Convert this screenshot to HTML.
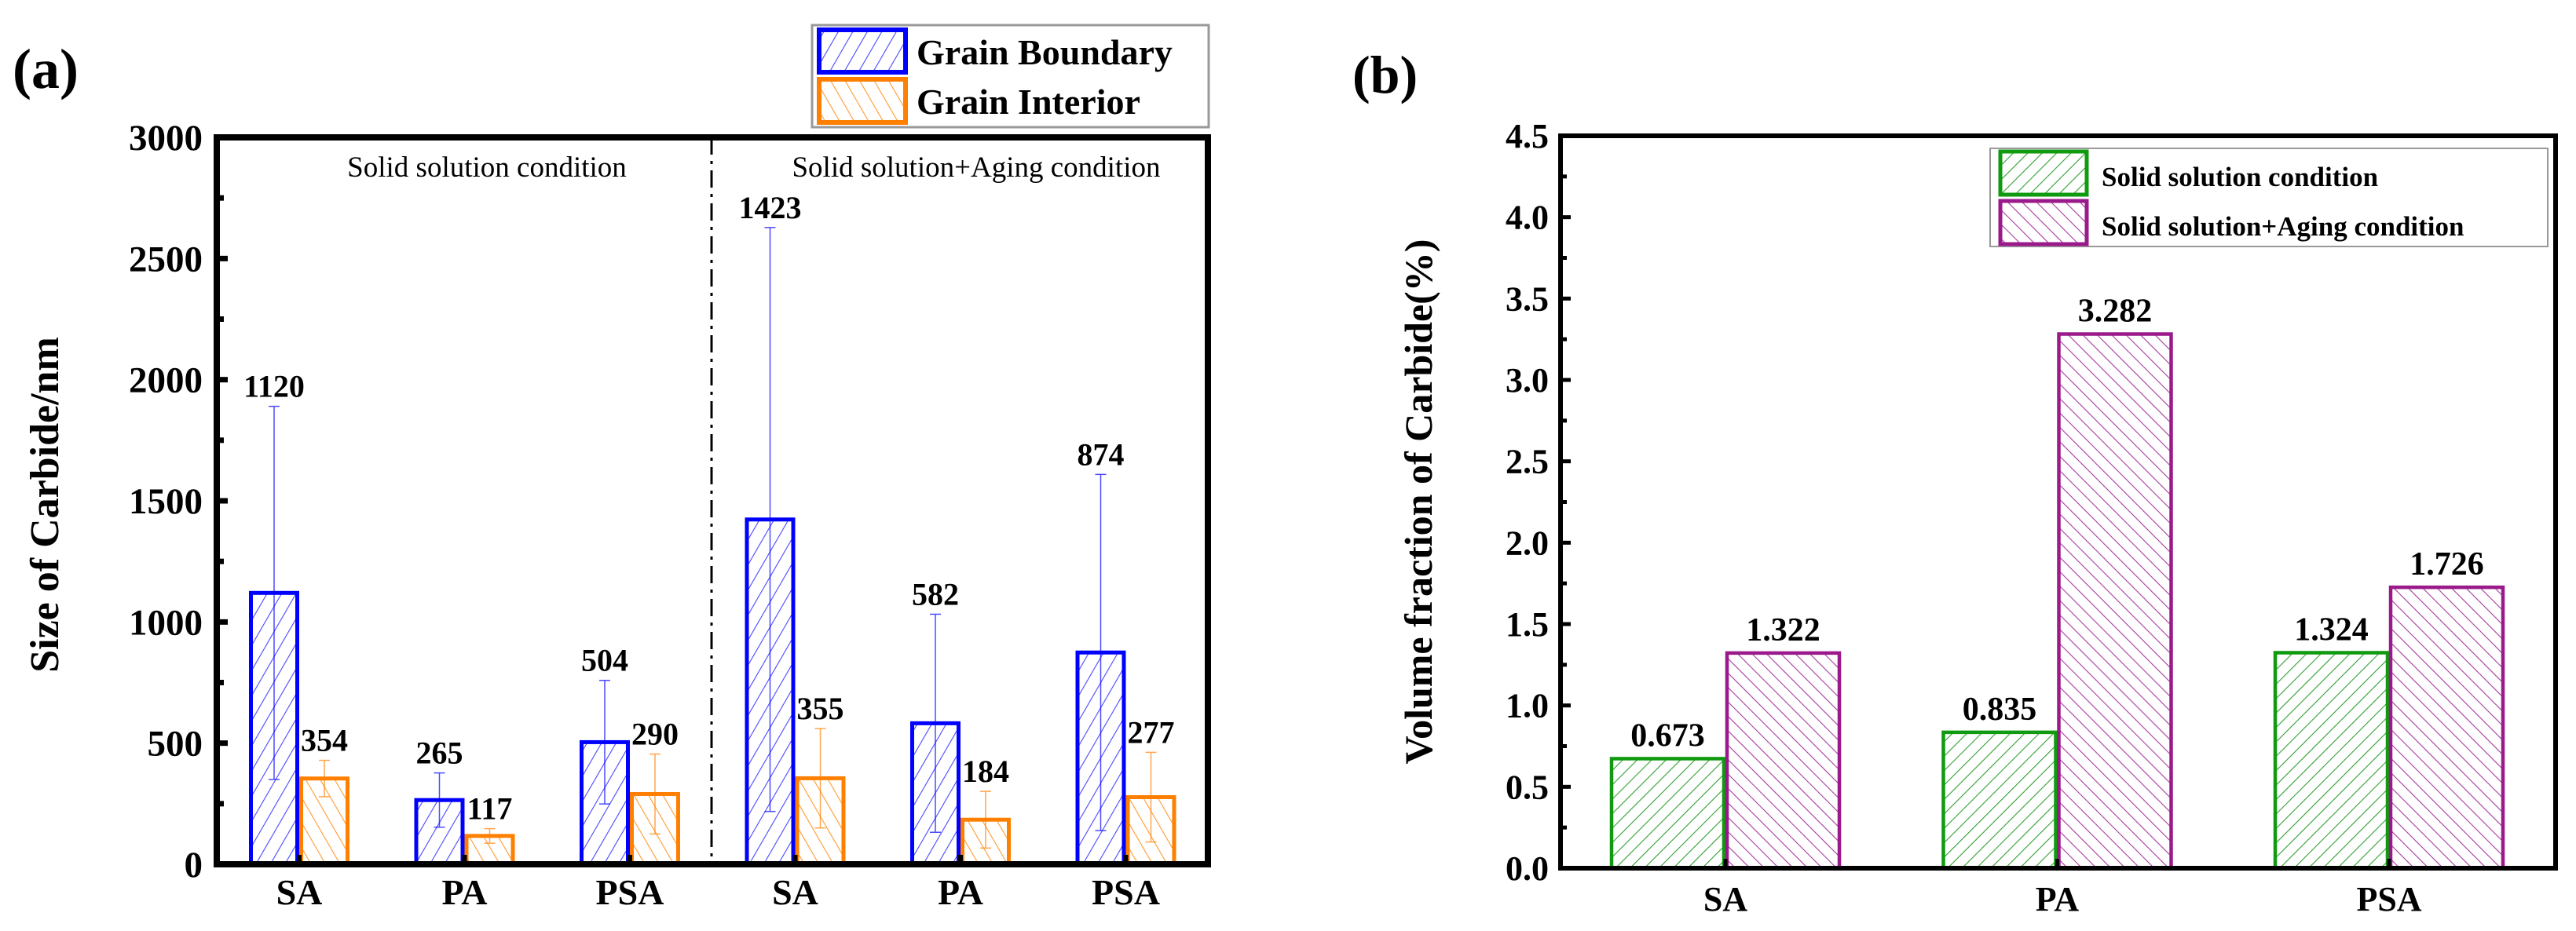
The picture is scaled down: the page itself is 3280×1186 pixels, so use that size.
<!DOCTYPE html>
<html><head><meta charset="utf-8">
<style>
html,body{margin:0;padding:0;background:#fff;}
svg{display:block;}
text{font-family:"Liberation Serif",serif;}
</style></head>
<body>
<svg id="fig" width="3280" height="1186" viewBox="0 0 3280 1186" xmlns="http://www.w3.org/2000/svg">
<defs>
<pattern id="hBlue" patternUnits="userSpaceOnUse" width="16" height="16" patternTransform="rotate(30)"><line x1="0" y1="0" x2="0" y2="16" stroke="#4848ff" stroke-width="2.2"/></pattern>
<pattern id="hOrange" patternUnits="userSpaceOnUse" width="16" height="16" patternTransform="rotate(-30)"><line x1="0" y1="0" x2="0" y2="16" stroke="#ff9a30" stroke-width="2.2"/></pattern>
<pattern id="hGreen" patternUnits="userSpaceOnUse" width="13" height="13" patternTransform="rotate(45)"><line x1="0" y1="0" x2="0" y2="13" stroke="#30a030" stroke-width="2.2"/></pattern>
<pattern id="hMag" patternUnits="userSpaceOnUse" width="13" height="13" patternTransform="rotate(-45)"><line x1="0" y1="0" x2="0" y2="13" stroke="#a83aa0" stroke-width="2.2"/></pattern>
</defs>
<g id="pa"></g>
<g id="pb"></g>
</svg>
<script>
// Panel (a) data
const catsA = ["SA","PA","PSA","SA","PA","PSA"];
const gbVals = [1120,265,504,1423,582,874];
const giVals = [354,117,290,355,184,277];
const gbErr = [770,112,255,1205,450,735];
const giErr = [75,30,165,205,117,185];
const ticksA = [0,500,1000,1500,2000,2500,3000];
// Panel (b) data
const catsB = ["SA","PA","PSA"];
const ssVals = [0.673,0.835,1.324];
const agVals = [1.322,3.282,1.726];
const ticksB = [0,0.5,1.0,1.5,2.0,2.5,3.0,3.5,4.0,4.5];

const NS="http://www.w3.org/2000/svg";
function mk(parent,tag,attrs,txt){const e=document.createElementNS(NS,tag);for(const k in attrs)e.setAttribute(k,attrs[k]);if(txt!==undefined)e.textContent=txt;parent.appendChild(e);return e;}

// ---------- Panel A ----------
const pa=document.getElementById('pa');
const aL=276,aR=1538,aT=175,aB=1101,aMax=3000;
const yA=v=>aB-(v/aMax)*(aB-aT);
const xA=i=>381+i*210.5;
const bwA=64;

let e;
e=mk(pa,'text',{x:16,y:112,'font-size':72,'font-weight':'bold'},'(a)');



e=mk(pa,'line',{x1:906,y1:aT,x2:906,y2:aB,stroke:'#000','stroke-width':3,'stroke-dasharray':'22,8,4,8'});


e=mk(pa,'text',{x:620,y:225,'font-size':37,'text-anchor':'middle'},'Solid solution condition');


e=mk(pa,'text',{x:1243,y:225,'font-size':37,'text-anchor':'middle'},'Solid solution+Aging condition');



function barA(i,v,err,side,fill,stroke,name){
  const cx=xA(i)+(side<0?-bwA/2:bwA/2);
  const x0=side<0?xA(i)-bwA:xA(i);
  const y=yA(v);
  let r=mk(pa,'rect',{x:x0+2.5,y:y,width:bwA-5,height:aB-y,fill:fill,stroke:stroke,'stroke-width':5});
  
  
  const yt=yA(v+err), yb=yA(Math.max(0,v-err));
  let g=mk(pa,'g',{stroke:stroke,'stroke-width':1.5,opacity:0.7});
  
  
  mk(g,'line',{x1:cx,y1:yt,x2:cx,y2:yb});
  mk(g,'line',{x1:cx-7,y1:yt,x2:cx+7,y2:yt});
  mk(g,'line',{x1:cx-7,y1:yb,x2:cx+7,y2:yb});
  let t=mk(pa,'text',{x:cx,y:yt-12,'font-size':40,'font-weight':'bold','text-anchor':'middle'},String(v));
  
  
}
for(let i=0;i<catsA.length;i++){
  barA(i,gbVals[i],gbErr[i],-1,'url(#hBlue)','#0000ff','grain-boundary');
  barA(i,giVals[i],giErr[i],1,'url(#hOrange)','#ff7f00','grain-interior');
}
e=mk(pa,'rect',{x:aL,y:aT,width:aR-aL,height:aB-aT,fill:'none',stroke:'#000','stroke-width':8});


for(let v=0;v<=aMax;v+=250){
  const y=yA(v);const len=(v%500===0)?14:9;
  mk(pa,'line',{x1:aL,y1:y,x2:aL+len,y2:y,stroke:'#000','stroke-width':7});
}
ticksA.forEach(v=>{
  let t=mk(pa,'text',{x:258,y:yA(v)+16,'font-size':47,'font-weight':'bold','text-anchor':'end'},String(v));
  
  
});
catsA.forEach((c,i)=>{
  mk(pa,'line',{x1:xA(i),y1:aB,x2:xA(i),y2:aB-12,stroke:'#000','stroke-width':6});
  let t=mk(pa,'text',{x:xA(i),y:1152,'font-size':46,'font-weight':'bold','text-anchor':'middle'},c);
  
  
});
e=mk(pa,'text',{x:0,y:0,'font-size':52,'font-weight':'bold','text-anchor':'middle',transform:'translate(74,643) rotate(-90)'},'Size of Carbide/nm');


let lg=mk(pa,'g',{});


mk(lg,'rect',{x:1034,y:32,width:505,height:130,fill:'#fff',stroke:'#999','stroke-width':3});
mk(lg,'rect',{x:1043,y:38,width:110,height:54,fill:'url(#hBlue)',stroke:'#0000ff','stroke-width':6});
mk(lg,'rect',{x:1043,y:101,width:110,height:55,fill:'url(#hOrange)',stroke:'#ff7f00','stroke-width':6});
e=mk(lg,'text',{x:1167,y:82,'font-size':46,'font-weight':'bold'},'Grain Boundary');


e=mk(lg,'text',{x:1167,y:145,'font-size':46,'font-weight':'bold'},'Grain Interior');



// ---------- Panel B ----------
const pb=document.getElementById('pb');
const bL=1987,bR=3254,bT=173,bB=1106,bMax=4.5;
const yB=v=>bB-(v/bMax)*(bB-bT);
const xB=i=>2197+i*422.5;
const bwB=147;
e=mk(pb,'text',{x:1722,y:118,'font-size':68,'font-weight':'bold'},'(b)');


function barB(i,v,side,fill,stroke,name){
  const x0=side<0?xB(i)-bwB:xB(i);
  const y=yB(v);
  let r=mk(pb,'rect',{x:x0+2,y:y,width:bwB-4,height:bB-y,fill:fill,stroke:stroke,'stroke-width':4.5});
  
  
  let t=mk(pb,'text',{x:x0+bwB/2,y:y-16,'font-size':42,'font-weight':'bold','text-anchor':'middle'},v.toFixed(3));
  
  
}
for(let i=0;i<catsB.length;i++){
  barB(i,ssVals[i],-1,'url(#hGreen)','#109a10','solid-solution');
  barB(i,agVals[i],1,'url(#hMag)','#9a1a8c','aging');
}
e=mk(pb,'rect',{x:bL,y:bT,width:bR-bL,height:bB-bT,fill:'none',stroke:'#000','stroke-width':6});


for(let k=0;k<=18;k++){
  const y=yB(k*0.25);const len=(k%2===0)?13:8;
  mk(pb,'line',{x1:bL,y1:y,x2:bL+len,y2:y,stroke:'#000','stroke-width':5});
}
ticksB.forEach(v=>{
  let t=mk(pb,'text',{x:1972,y:yB(v)+15,'font-size':44,'font-weight':'bold','text-anchor':'end'},v.toFixed(1));
  
  
});
catsB.forEach((c,i)=>{
  mk(pb,'line',{x1:xB(i),y1:bB,x2:xB(i),y2:bB-12,stroke:'#000','stroke-width':5});
  let t=mk(pb,'text',{x:xB(i),y:1160,'font-size':44,'font-weight':'bold','text-anchor':'middle'},c);
  
  
});
e=mk(pb,'text',{x:0,y:0,'font-size':50,'font-weight':'bold','text-anchor':'middle',transform:'translate(1823,639) rotate(-90)'},'Volume fraction of Carbide(%)');


let lb=mk(pb,'g',{});


mk(lb,'rect',{x:2534,y:189,width:710,height:125,fill:'#fff',stroke:'#999','stroke-width':2});
mk(lb,'rect',{x:2547,y:193,width:110,height:55,fill:'url(#hGreen)',stroke:'#109a10','stroke-width':5});
mk(lb,'rect',{x:2547,y:256,width:110,height:55,fill:'url(#hMag)',stroke:'#9a1a8c','stroke-width':5});
e=mk(lb,'text',{x:2676,y:237,'font-size':35,'font-weight':'bold'},'Solid solution condition');


e=mk(lb,'text',{x:2676,y:300,'font-size':35,'font-weight':'bold'},'Solid solution+Aging condition');


</script>
</body></html>
